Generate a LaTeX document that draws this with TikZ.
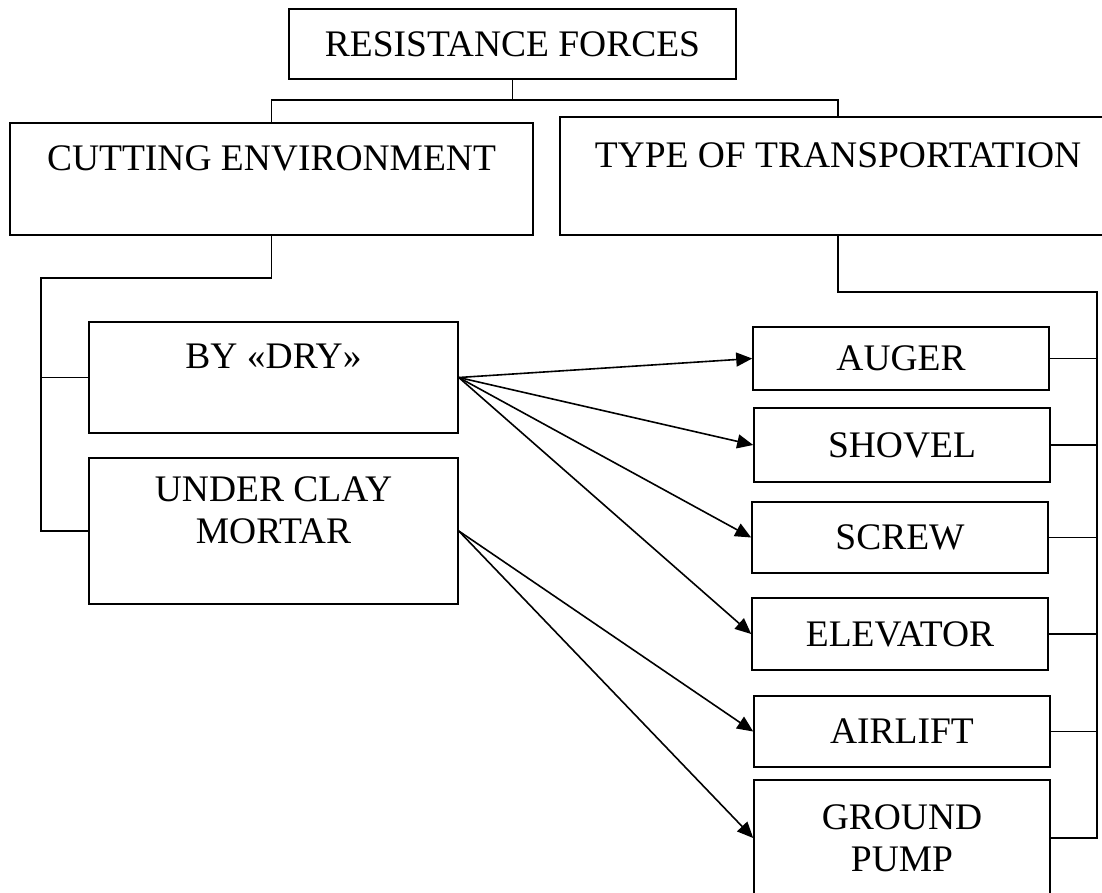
\documentclass[tikz,border=0pt]{standalone}
\usepackage{fontspec}
\setmainfont{Liberation Serif}
\usepackage{tikz}
\usetikzlibrary{arrows.meta}
\tikzstyle{boxed} = [draw, rectangle, align=center, inner sep=0pt, font=\fontsize{37.5}{42}\selectfont]
\tikzstyle{arrowed} = [-{Triangle[length=16pt,width=14pt]}]

\begin{document}
\begin{tikzpicture}
    [x=1pt,y=-1pt,line width=1.6pt]
      \clip (0,0) rectangle (1102,892);
      \node [boxed, minimum width=447pt, minimum height=70pt](res) at (512.5,44) {RESISTANCE FORCES};
      \node [boxed, minimum width=523pt, minimum height=112pt](cut) at (271.5,179) {CUTTING ENVIRONMENT\\~};
      \node [boxed, minimum width=556pt, minimum height=118pt](type) at (838,176) {TYPE OF TRANSPORTATION\\~};
      \node [boxed, minimum width=369pt, minimum height=111pt](dry) at (273.5,377.5) {BY «DRY»\\~};
      \node [boxed, minimum width=369pt, minimum height=146pt](clay) at (273.5,531) {UNDER CLAY\\MORTAR\\~};
      \node [boxed, minimum width=296pt, minimum height=63pt](auger) at (901,358.5) {AUGER};
      \node [boxed, minimum width=296pt, minimum height=74pt](shovel) at (902,445) {SHOVEL};
      \node [boxed, minimum width=296pt, minimum height=71pt](screw) at (900,537.5) {SCREW};
      \node [boxed, minimum width=296pt, minimum height=72pt](elev) at (900,634) {ELEVATOR};
      \node [boxed, minimum width=296pt, minimum height=71pt](air) at (902,731.5) {AIRLIFT};
      \node [boxed, minimum width=296pt, minimum height=116pt](pump) at (902,838) {GROUND\\PUMP};
      \coordinate (rj) at (512.5,100);
      \coordinate (lj) at (271.5,278);
      \coordinate (lbus) at (41,278);
      \coordinate (tj) at (838,292);
      \coordinate (rbus) at (1097,292);

      \draw (res.south) -- (rj) -| (cut.north);
      \draw (rj) -| (type.north);
      \draw (cut.south) -- (lj) -- (lbus) |- (clay.west);
      \draw (dry.west) -- (dry.west -| lbus);
      \draw (type.south) -- (tj) -- (rbus) |- (pump.east);
      \foreach \to in {auger,shovel,screw,elev,air}
        \draw (\to.east) -- (\to.east -| rbus);
      \foreach \to in {auger,shovel,screw,elev}
        \draw [arrowed] (dry.east) -- (\to.west);
      \foreach \to in {air,pump}
        \draw [arrowed] (clay.east) -- (\to.west);

    \end{tikzpicture}
\end{document}
